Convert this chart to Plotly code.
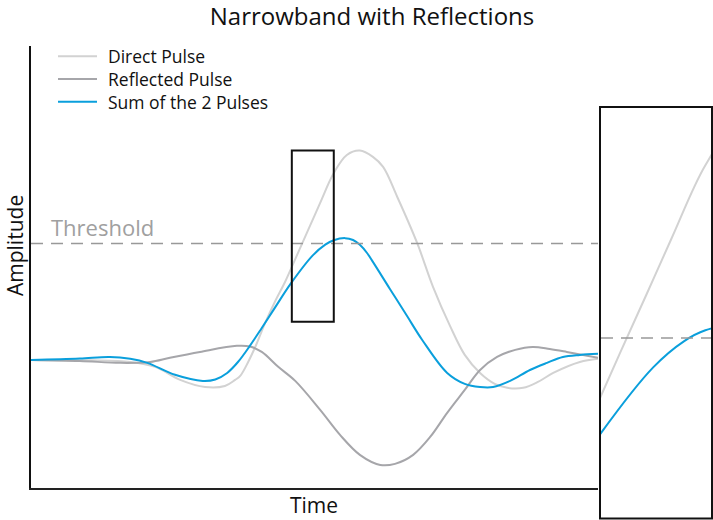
import plotly.graph_objects as go

W, H = 713, 520

# ---- data (time in arbitrary units 0..100, amplitude in % of direct-pulse peak) ----
direct_t = [0, 10.4, 17.5, 21.9, 26.3, 30.7, 34.2, 36.0, 36.9, 38.3, 39.7, 41.3, 43.0, 44.8,
            46.0, 47.4, 49.2, 51.0, 53.4, 55.7, 58.0, 60.3, 62.1, 64.6, 68.1, 70.9, 73.9,
            76.5, 79.2, 81.8, 84.0, 86.8, 89.4, 92.1, 96.8, 100]
direct_a = [0, -0.2, -1.0, -3.3, -9.5, -12.9, -12.4, -9.5, -7.6, -1.0, 7.1, 17.6, 27.6, 37.1,
            44.3, 52.9, 63.8, 74.8, 89.0, 97.6, 99.7, 96.7, 91.9, 77.6, 55.7, 34.8, 16.2,
            2.4, -6.2, -11.4, -13.3, -13.3, -10.5, -6.2, -1.0, 0.5]

reflected_t = [0, 8.6, 15.7, 21.0, 24.5, 29.8, 36.3, 38.6, 40.7, 43.6, 46.6, 51.0, 54.5, 58.0,
               61.6, 64.2, 67.4, 70.4, 73.4, 76.5, 79.2, 82.2, 85.4, 88.5, 91.5, 94.5, 100]
reflected_a = [0, -0.5, -1.4, -1.0, 1.0, 3.8, 6.7, 6.4, 3.8, -3.3, -10.0, -23.8, -35.7, -45.2,
               -50.0, -49.5, -45.2, -36.7, -25.2, -14.3, -4.8, 1.4, 4.8, 6.2, 5.2, 3.8, 1.0]

sum_t = [0, 8.6, 13.9, 17.5, 20.5, 25.4, 30.3, 32.5, 34.6, 36.5, 38.6, 40.7, 43.0, 45.9, 49.7,
         51.9, 53.4, 55.4, 56.8, 58.0, 59.3, 60.3, 63.3, 66.3, 69.0, 73.4, 76.5, 79.2, 81.5,
         84.5, 88.0, 91.0, 93.8, 96.8, 100]
sum_a = [0, 0.7, 1.4, 0.5, -1.4, -7.1, -10.0, -9.3, -6.2, -1.0, 6.7, 15.2, 24.8, 36.7, 49.8,
         54.9, 57.0, 58.0, 57.1, 54.8, 50.8, 46.7, 33.8, 21.0, 9.5, -6.2, -11.4, -12.9, -12.9,
         -10.0, -4.8, -1.4, 1.4, 2.4, 2.9]

threshold = 55.5
zoom_box_t = [46.0, 53.4]
zoom_box_a = [18.2, 99.7]
inset_t_range = [46.0, 53.8]
inset_a_range = [20.6, 100.3]

series_names = ["Direct Pulse", "Reflected Pulse", "Sum of the 2 Pulses"]
colors = ["#d2d2d2", "#a6a6aa", "#0a9fdc"]

FONT = "Open Sans"

fig = go.Figure()
data = [(direct_t, direct_a), (reflected_t, reflected_a), (sum_t, sum_a)]
for (t, a), name, c in zip(data, series_names, colors):
    fig.add_trace(go.Scatter(x=t, y=a, mode="lines", name=name,
                             line=dict(color=c, width=2, shape="spline", smoothing=1.0),
                             xaxis="x", yaxis="y", showlegend=False))
for (t, a), name, c in zip(data, series_names, colors):
    fig.add_trace(go.Scatter(x=t, y=a, mode="lines", name=name,
                             line=dict(color=c, width=2, shape="spline", smoothing=1.0),
                             xaxis="x2", yaxis="y2", showlegend=False))

fig.update_layout(
    width=W, height=H,
    margin=dict(l=0, r=0, t=0, b=0),
    paper_bgcolor="white", plot_bgcolor="white",
    font=dict(family=FONT, color="#111111"),
    title=dict(text="Narrowband with Reflections", x=372 / W, xanchor="center",
               y=1 - 17 / H, yanchor="middle", font=dict(size=24, family=FONT, color="#111111")),
    xaxis=dict(domain=[31 / W, 598 / W], range=[0, 100], showgrid=False, zeroline=False,
               showticklabels=False, ticks="", showline=True, linecolor="#222222", linewidth=1.5),
    yaxis=dict(domain=[(H - 488) / H, (H - 46) / H], range=[-61.0, 149.5], showgrid=False,
               zeroline=False, showticklabels=False, ticks="", showline=True,
               linecolor="#111111", linewidth=1.5),
    xaxis2=dict(domain=[601 / W, 711 / W], range=inset_t_range, showgrid=False, zeroline=False,
                showticklabels=False, ticks="", showline=False, anchor="y2"),
    yaxis2=dict(domain=[2 / H, 413 / H], range=inset_a_range, showgrid=False, zeroline=False,
                showticklabels=False, ticks="", showline=False, anchor="x2"),
    showlegend=False,
)

# legend (drawn manually: one multi-line label block plus line samples)
LEG_FONT = 17.5
leg_center = 79
leg_step = LEG_FONT * 1.3
for i, c in enumerate(colors):
    yc = leg_center + (i - 1) * leg_step
    fig.add_shape(type="line", xref="paper", yref="paper", x0=58 / W, x1=97 / W,
                  y0=1 - yc / H, y1=1 - yc / H, line=dict(color=c, width=2))
fig.add_annotation(text="<br>".join(series_names), xref="paper", yref="paper",
                   x=107 / W, y=1 - leg_center / H, xanchor="left", yanchor="middle",
                   align="left", showarrow=False, borderpad=0,
                   font=dict(size=LEG_FONT, family=FONT, color="#111111"))

# threshold lines
fig.add_shape(type="line", xref="x", yref="y", x0=0, x1=100, y0=threshold, y1=threshold,
              line=dict(color="#999999", width=1.5, dash="12px,8px"))
fig.add_shape(type="line", xref="x2 domain", yref="y2", x0=0, x1=1, y0=threshold, y1=threshold,
              line=dict(color="#999999", width=1.5, dash="12px,8px"))
# zoom box on main chart
fig.add_shape(type="rect", xref="x", yref="y", x0=zoom_box_t[0], x1=zoom_box_t[1],
              y0=zoom_box_a[0], y1=zoom_box_a[1], line=dict(color="#111111", width=2))
# inset border
fig.add_shape(type="rect", xref="paper", yref="paper", x0=600 / W, x1=712 / W,
              y0=1.5 / H, y1=(H - 107) / H, line=dict(color="#111111", width=2))

fig.add_annotation(text="Threshold", xref="paper", yref="paper", x=50 / W, y=1 - 227 / H,
                   xanchor="left", yanchor="middle", showarrow=False, borderpad=0,
                   font=dict(size=22, family=FONT, color="#a0a0a0"))
fig.add_annotation(text="Time", xref="paper", yref="paper", x=314 / W, y=1 - 505 / H,
                   xanchor="center", yanchor="middle", showarrow=False, borderpad=0,
                   font=dict(size=21, family=FONT, color="#111111"))
fig.add_annotation(text="Amplitude", xref="paper", yref="paper", x=15 / W, y=1 - 246 / H,
                   xanchor="center", yanchor="middle", showarrow=False, textangle=-90,
                   borderpad=0, font=dict(size=21, family=FONT, color="#111111"))

fig.write_html("out.html", config={"displayModeBar": False},
               post_script="document.body.style.margin='0px';document.body.style.padding='0px';"
                           "document.body.style.overflow='hidden';")
